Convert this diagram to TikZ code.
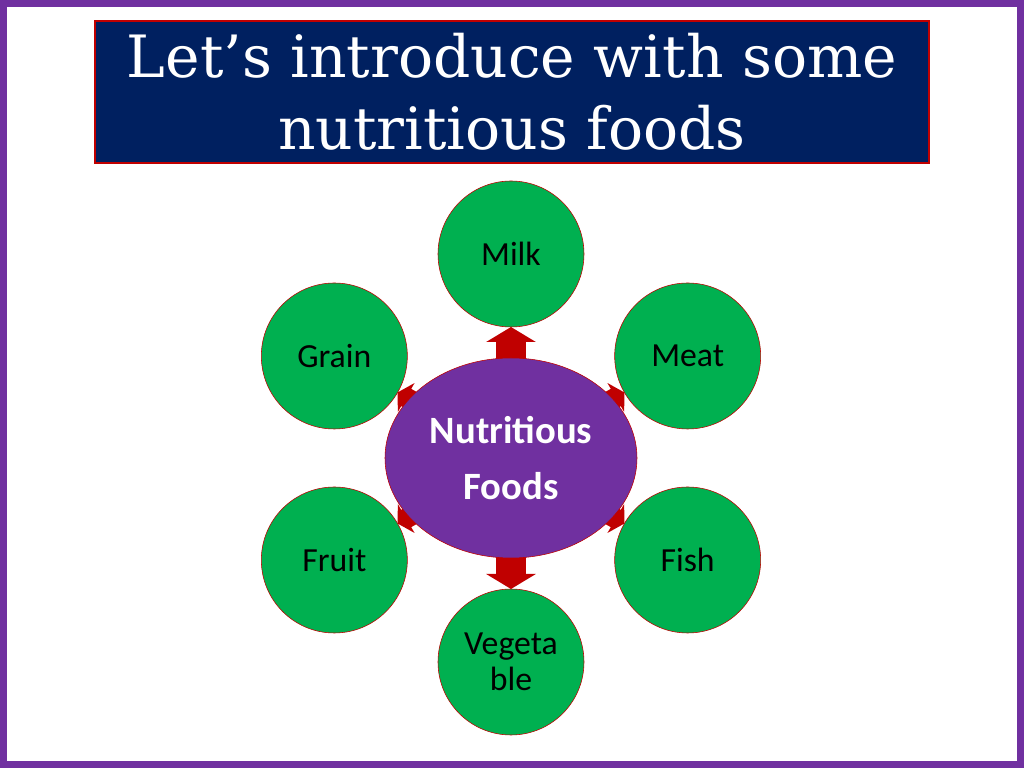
\documentclass[tikz,border=0pt]{standalone}
\usepackage{fontspec}
\setmainfont{Carlito}
\newfontfamily\titlefont{DejaVu Serif}
\usetikzlibrary{arrows.meta,backgrounds,shapes.geometric}
\definecolor{framepurple}{HTML}{7030A0}
\definecolor{leafgreen}{HTML}{00B050}
\definecolor{titlenavy}{HTML}{002060}
\definecolor{darkred}{HTML}{C00000}

\begin{document}
\begin{tikzpicture}[
  title box/.style={
    draw=darkred,
    fill=titlenavy,
    line width=0.06cm,
    text=white,
    align=center,
    minimum width=20.85cm,
    minimum height=3.55cm,
    font=\titlefont\fontsize{41.5}{51}\selectfont
  },
  hub ellipse/.style={
    ellipse,
    draw=darkred,
    fill=framepurple,
    text=white,
    align=center,
    minimum width=6.3cm,
    minimum height=5cm,
    font=\bfseries\fontsize{27.5}{40}\selectfont
  },
  food circle/.style={
    circle,
    draw=darkred,
    fill=leafgreen,
    minimum size=3.65cm,
    inner sep=0pt,
    align=center,
    font=\fontsize{24}{25.5}\selectfont
  },
  block arrow/.style={
    draw=darkred,
    line width=0.75cm,
    shorten <=2.375cm,
    shorten >=1.825cm,
    -{Triangle[length=0.375cm,width=1.225cm]}
  },
  small arrow/.style={
    block arrow,
    line width=0.5cm,
    shorten <=2.6cm,
    -{Triangle[length=0.25cm,width=0.825cm]}
  }
]
\useasboundingbox (0,0) rectangle (25.6,19.2);

\node[title box] (title) at (12.8,16.9) {Let’s introduce with some\\nutritious foods};

\node[hub ellipse] (hub) at (12.775,7.75) {Nutritious\\Foods};
\foreach \ang/\name/\txt in {90/milk/Milk,30/meat/Meat,-30/fish/Fish,
  -90/veg/{Vegeta\\ble},210/fruit/Fruit,150/grain/Grain}
{\node[food circle] (\name) at ([shift={(\ang:5.1)}]hub) {\txt};}

\begin{scope}[on background layer]
\draw[line width=0.175cm,draw=framepurple,fill=white]
  (0.0875,0.0875) rectangle (25.5125,19.1125);
\foreach \name/\sty in {milk/block arrow,veg/block arrow,meat/small arrow,
  fish/small arrow,fruit/small arrow,grain/small arrow}
  \draw[\sty] (hub.center) -- (\name.center);
\end{scope}
\end{tikzpicture}
\end{document}
